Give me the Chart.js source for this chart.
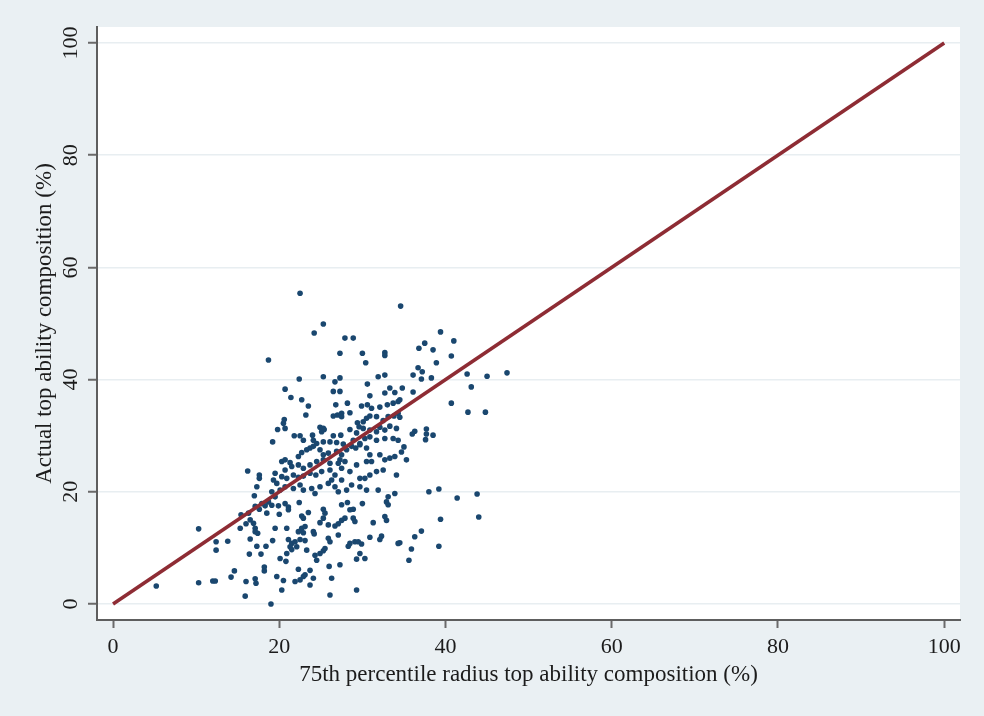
<!DOCTYPE html>
<html>
<head>
<meta charset="utf-8">
<script src="https://cdn.jsdelivr.net/npm/chart.js@4"></script>
<style>
  html, body { margin: 0; padding: 0; background: #eaf0f3; }
  #wrap { width: 984px; height: 716px; }
</style>
</head>
<body>
<div id="wrap"><canvas id="myChart" width="984" height="716"></canvas></div>
<script>
// x = 75th percentile radius composition, y = actual composition (both %)
const points = [
  // upper tail
  [22.5,55.4],[25.3,49.9],[24.2,48.3],[27.9,47.4],[28.9,47.4],[27.3,44.7],[30.0,44.7],[32.7,44.8],
  [32.7,44.3],[30.4,43.0],[34.6,53.1],[18.7,43.5],[22.4,40.1],[25.3,40.5],[26.7,39.6],[27.3,40.3],
  [30.6,39.2],[31.9,40.5],[32.7,40.8],[33.3,38.5],[20.7,38.3],
  [39.4,48.5],[37.5,46.5],[36.8,45.6],[41.0,46.9],[38.5,45.3],[40.7,44.2],[38.9,43.0],[36.7,42.1],
  [37.2,41.4],[36.1,40.8],[37.1,40.1],[38.3,40.3],[42.6,41.0],[45.0,40.6],[47.4,41.2],[43.1,38.7],
  [34.8,38.5],
  // right side
  [40.7,35.8],[42.7,34.2],[44.8,34.2],[36.3,30.8],[36.0,30.3],[37.7,31.2],[37.7,30.3],[37.6,29.3],
  [38.5,30.1],[35.0,28.0],[34.7,27.1],[35.3,25.7],[38.0,20.0],[39.2,20.5],[43.8,19.6],[41.4,18.9],
  [34.5,36.4],[36.1,37.8],[34.5,33.3],
  [44.0,15.5],[39.4,15.1],[37.1,13.0],[36.3,12.0],[34.5,10.9],[35.9,9.8],[39.2,10.3],[35.6,7.8],
  // left side
  [5.2,3.2],[10.3,13.4],[10.3,3.8],[12.0,4.1],[12.3,4.1],[12.4,11.1],[12.4,9.6],[13.8,11.2],
  [14.2,4.8],[14.6,5.9],[15.9,1.4],[16.0,4.0],[17.1,4.5],[17.2,3.7],[16.4,8.9],[17.8,8.9],
  [16.5,11.6],[17.3,10.3],[18.4,10.3],[18.2,6.6],[18.2,5.9],[15.4,15.9],[15.3,13.5],[16.0,14.3],
  [16.5,15.0],[16.9,14.4],[17.1,13.5],[17.1,12.9],[17.4,12.6],[17.6,16.9],[17.1,17.4],[16.3,16.2],
  [18.3,17.5],[18.5,16.2],[18.7,18.2],[17.9,17.9],
  [16.2,23.7],[17.6,23.0],[17.6,22.4],[17.3,20.9],[17.0,19.3],
  // core, upper half
  [26.5,37.9],[27.3,37.9],[30.9,37.1],[32.7,37.6],[33.9,37.7],[21.4,36.8],[22.7,36.4],[23.5,35.3],
  [23.2,33.7],[20.6,32.9],[20.5,32.2],[19.8,31.1],[20.7,31.3],[26.8,35.5],[28.2,35.8],[27.0,33.7],
  [27.5,34.0],[28.5,34.1],[29.9,35.3],[30.6,35.5],[31.1,34.9],[32.1,35.1],[33.0,35.5],[33.7,35.8],
  [34.3,36.1],[26.5,33.5],[27.5,33.4],[29.4,32.3],[30.1,32.5],[30.5,33.1],[30.9,33.5],[31.7,33.4],
  [32.5,32.7],[33.1,33.4],[33.8,33.5],[34.3,34.0],[19.2,28.9],[21.8,30.0],[22.5,30.0],[24.0,30.1],
  [24.9,31.5],[25.3,31.3],[25.1,30.7],[25.4,31.1],[26.5,30.0],[27.4,30.1],[28.5,31.1],[29.3,30.5],
  [29.6,31.6],[30.1,31.3],[30.9,31.0],[31.7,30.7],[32.1,31.5],[32.7,31.0],[33.3,31.7],[34.1,31.3],
  [22.9,29.2],[24.1,29.2],[24.5,28.6],[25.3,28.9],[26.1,28.9],[26.9,28.8],[27.7,28.5],[28.9,29.2],
  [29.7,28.6],[30.3,29.5],[30.9,29.8],[31.7,29.2],[32.7,29.5],[33.7,29.5],[34.3,29.2],
  [20.3,25.4],[20.7,25.7],[21.3,25.2],[22.3,26.3],[22.7,27.0],[23.3,27.5],[23.7,27.8],[24.1,28.1],
  [24.9,27.5],[25.3,26.6],[25.9,26.9],[26.9,27.2],[27.5,26.6],[28.1,27.5],[28.7,28.1],[29.2,27.8],
  [29.7,28.4],[30.5,27.8],[30.9,26.6],[32.1,26.6],[32.7,25.7],[33.3,26.0],[33.9,26.3],
  [19.5,23.3],[20.7,23.9],[21.5,24.5],[22.3,24.8],[22.9,24.2],[23.7,24.8],[24.5,25.4],[25.3,25.7],
  [26.1,25.1],[27.3,25.7],[27.1,25.1],[27.5,24.2],[27.9,25.4],[29.3,24.8],[30.5,25.4],[31.1,25.4],
  [19.3,22.1],[19.7,21.5],[20.3,22.7],[20.9,22.4],[21.7,23.0],[22.3,22.6],[22.9,22.8],[23.7,23.3],
  [24.4,23.0],[25.1,23.6],[26.1,23.9],[26.7,23.0],[27.5,22.1],[28.5,23.6],[29.7,22.4],[30.3,22.4],
  [30.9,23.0],[31.7,23.6],[32.5,23.9],[34.1,23.0],
  [19.1,20.0],[19.5,19.1],[20.1,20.3],[20.7,20.9],[21.7,20.6],[22.5,21.2],[22.9,20.3],[23.9,20.6],
  [24.3,19.7],[24.9,20.9],[25.9,21.5],[26.3,22.1],[26.7,20.9],[27.1,20.0],[28.1,20.3],[28.7,21.2],
  [29.7,20.9],[30.5,20.3],[31.9,20.3],[33.1,19.1],[33.9,19.7],
  // core, lower half
  [19.1,17.6],[19.9,17.5],[20.7,17.9],[21.1,17.3],[22.4,18.1],[25.3,16.9],[27.5,17.7],[28.2,18.1],
  [28.5,16.8],[28.9,16.9],[30.0,17.9],[32.9,18.2],[33.1,17.7],[20.0,16.0],[21.1,16.8],[22.7,15.7],
  [22.9,15.3],[23.5,16.3],[24.9,14.5],[25.3,15.3],[25.5,16.2],[25.9,14.1],[26.7,13.9],[27.1,14.3],
  [27.5,14.9],[27.9,15.3],[28.9,15.3],[29.1,14.7],[31.3,14.5],[32.7,15.6],[32.9,14.9],
  [19.5,13.5],[20.9,13.5],[22.3,12.9],[22.7,13.5],[23.1,13.8],[22.9,12.7],[24.1,12.9],[24.2,12.5],
  [25.9,11.7],[26.1,11.1],[27.1,12.3],[30.9,11.9],[32.3,12.1],[32.1,11.5],[34.3,10.8],
  [19.2,11.3],[21.1,11.5],[21.5,10.8],[21.9,11.1],[22.1,10.2],[22.5,11.5],[23.1,11.3],[23.3,9.6],
  [21.3,10.2],[21.5,9.7],[20.9,9.0],[20.1,8.1],[20.8,7.6],[24.5,7.8],[24.3,8.7],[24.9,9.0],
  [25.3,9.5],[25.5,9.9],[28.3,10.3],[28.5,10.8],[29.1,11.1],[29.5,11.1],[29.9,10.7],[29.7,9.0],
  [29.3,8.0],[30.3,8.1],
  [22.3,6.2],[22.5,4.3],[22.9,4.9],[23.1,5.2],[23.7,6.0],[24.1,4.6],[21.9,4.0],[20.5,4.2],
  [19.7,4.9],[26.0,6.7],[27.3,7.0],[26.3,4.6],[23.7,3.4],[20.3,2.5],[29.3,2.5],[26.1,1.6],
  [19.0,0.0]
];

// 45-degree reference line
const lineEnds = [0, 100];
const tickValues = [0, 20, 40, 60, 80, 100];
const xTitle = '75th percentile radius top ability composition (%)';
const yTitle = 'Actual top ability composition (%)';

const serif = 'Liberation Serif';
const ink = '#1c1c1c';

// white plot region on the pale blue page
const plotBackground = {
    id: 'plotBackground',
    beforeDraw(chart) {
        const ctx = chart.ctx;
        const a = chart.chartArea;
        ctx.save();
        ctx.fillStyle = '#eaf0f3';
        ctx.fillRect(0, 0, chart.width, chart.height);
        ctx.fillStyle = '#ffffff';
        ctx.fillRect(a.left, a.top, a.right - a.left, a.bottom - a.top);
        ctx.restore();
    }
};

// y tick labels turned on their side
const sideLabels = {
    id: 'sideLabels',
    afterDraw(chart) {
        const ctx = chart.ctx;
        const y = chart.scales.y;
        ctx.save();
        ctx.fillStyle = ink;
        ctx.font = '22px "' + serif + '"';
        ctx.textAlign = 'center';
        ctx.textBaseline = 'middle';
        tickValues.forEach(function(v) {
            ctx.save();
            ctx.translate(71, y.getPixelForValue(v));
            ctx.rotate(-Math.PI / 2);
            ctx.fillText(String(v), 0, 0);
            ctx.restore();
        });
        ctx.restore();
    }
};

const ctx = document.getElementById('myChart').getContext('2d');
const myChart = new Chart(ctx, {
    type: 'scatter',
    data: {
        datasets: [{
            type: 'line',
            data: lineEnds.map(v => ({ x: v, y: v })),
            borderColor: '#8e2c34',
            borderWidth: 3.6,
            pointRadius: 0,
            fill: false
        }, {
            data: points.map(p => ({ x: p[0], y: p[1] })),
            backgroundColor: '#1a476f',
            borderColor: '#1a476f',
            borderWidth: 0,
            pointRadius: 2.8
        }]
    },
    options: {
        responsive: false,
        devicePixelRatio: 1,
        animation: false,
        layout: { padding: { left: 0, top: 27, right: 24, bottom: 0 } },
        plugins: {
            legend: { display: false },
            tooltip: { enabled: false }
        },
        scales: {
            x: {
                min: -1.93,
                max: 101.9,
                afterBuildTicks: s => { s.ticks = tickValues.map(v => ({ value: v })); },
                afterFit: s => { s.height = 96; },
                grid: {
                    drawOnChartArea: false,
                    tickLength: 8,
                    tickWidth: 2,
                    tickColor: '#6a6a6a'
                },
                border: { color: '#5e5e5e', width: 2 },
                ticks: {
                    padding: 6,
                    color: ink,
                    font: { family: serif, size: 22 }
                },
                title: {
                    display: true,
                    text: xTitle,
                    color: ink,
                    font: { family: serif, size: 23 },
                    padding: { bottom: 27 }
                }
            },
            y: {
                min: -2.85,
                max: 102.85,
                afterBuildTicks: s => { s.ticks = tickValues.map(v => ({ value: v })); },
                afterFit: s => { s.width = 97; },
                grid: {
                    color: '#e8eef1',
                    lineWidth: 1.5,
                    tickLength: 9,
                    tickWidth: 2,
                    tickColor: '#6a6a6a'
                },
                border: { color: '#5e5e5e', width: 2 },
                ticks: {
                    color: 'transparent',
                    font: { family: serif, size: 22 }
                },
                title: {
                    display: true,
                    text: yTitle,
                    color: ink,
                    font: { family: serif, size: 23 },
                    padding: { top: 31 }
                }
            }
        }
    },
    plugins: [plotBackground, sideLabels]
});
</script>
</body>
</html>
